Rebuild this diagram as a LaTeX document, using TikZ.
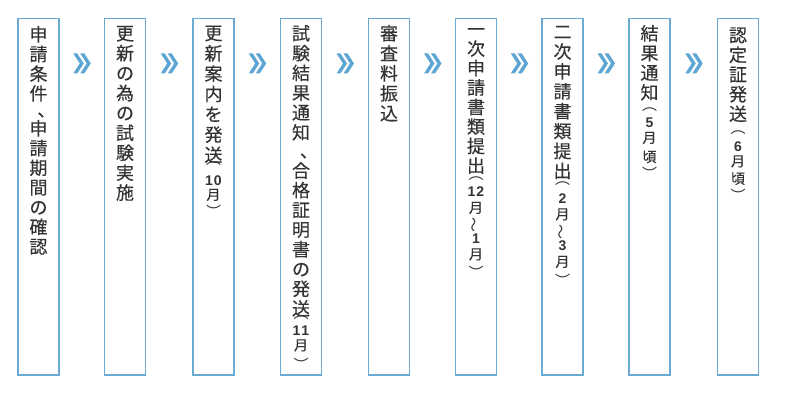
\documentclass[tikz,border=0pt]{standalone}
\usepackage{fontspec}
\setmainfont{Liberation Sans}
\newfontfamily\cjk[FakeBold=0.3]{Noto Sans CJK JP}
\newfontfamily\cjkr{Noto Sans CJK JP}
\usetikzlibrary{calc}
\definecolor{boxblue}{HTML}{6BAAD2}
\definecolor{chevblue}{HTML}{5DA6D3}
\definecolor{txt}{HTML}{333333}
\tikzset{
  stepbox/.style={draw=boxblue, line width=1.1pt, minimum width=41pt, minimum height=356.5pt, inner sep=0pt},
  mainch/.style={font=\cjk\fontsize{18}{18}\selectfont, text=txt, inner sep=0pt, text height=15.84pt, text depth=2.16pt},
  smallch/.style={font=\cjk\fontsize{14}{14}\selectfont, text=txt, inner sep=0pt, text height=12.32pt, text depth=1.68pt},
  parch/.style={font=\cjkr\fontsize{15}{15}\selectfont, text=txt, inner sep=0pt, text height=13.2pt, text depth=1.8pt},
  popen/.style={parch, yshift=6.5pt},
  pclose/.style={parch, yshift=-7.5pt},
  digch/.style={font=\bfseries\fontsize{14}{14}\selectfont, text=txt, inner sep=0pt, text height=10.02pt, text depth=0pt},
  commach/.style={mainch, xshift=-3pt, yshift=-10pt},
  chev/.pic={
    \fill[chevblue] (-8.5,-10) -- (-4.5,-10) -- (2,0) -- (-4.5,10) -- (-8.5,10) -- (-2,0) -- cycle;
    \fill[chevblue] (-1.5,-10) -- (2.5,-10) -- (9,0) -- (2.5,10) -- (-1.5,10) -- (5,0) -- cycle;
  }
}
\begin{document}
\begin{tikzpicture}[x=1pt,y=-1pt]
\useasboundingbox (0,0) rectangle (800,400);
% boxes
\node[stepbox] (b1) at (38.5,196.75) {};
\node[stepbox] (b2) at (125,196.75) {};
\node[stepbox] (b3) at (213.5,196.75) {};
\node[stepbox] (b4) at (301,196.75) {};
\node[stepbox] (b5) at (389,196.75) {};
\node[stepbox] (b6) at (476,196.75) {};
\node[stepbox] (b7) at (562.5,196.75) {};
\node[stepbox] (b8) at (649.5,196.75) {};
\node[stepbox] (b9) at (738,196.75) {};
% chevrons
\pic (ch1) at ($(b1.north east)!.5!(b2.north west)+(0,45.5)$) {chev};
\pic (ch2) at ($(b2.north east)!.5!(b3.north west)+(0,45.5)$) {chev};
\pic (ch3) at ($(b3.north east)!.5!(b4.north west)+(0,45.5)$) {chev};
\pic (ch4) at ($(b4.north east)!.5!(b5.north west)+(0,45.5)$) {chev};
\pic (ch5) at ($(b5.north east)!.5!(b6.north west)+(0,45.5)$) {chev};
\pic (ch6) at ($(b6.north east)!.5!(b7.north west)+(0,45.5)$) {chev};
\pic (ch7) at ($(b7.north east)!.5!(b8.north west)+(0,45.5)$) {chev};
\pic (ch8) at ($(b8.north east)!.5!(b9.north west)+(0,45.5)$) {chev};
% box 1
\foreach \c [count=\k from 0] in {申,請,条,件} \node[mainch] (b1a\k) at (38.5,34.3+19.7*\k) {\c};
\node[commach] (b1cm) at (38.5,110.5) {︑};
\foreach \c [count=\k from 0] in {申,請,期,間,の,確,認} \node[mainch] (b1b\k) at (38.5,128.3+19.7*\k) {\c};
% box 2
\foreach \c [count=\k from 0] in {更,新,の,為,の,試,験,実,施} \node[mainch] (b2a\k) at (125,33.3+19.9*\k) {\c};
% box 3
\foreach \c [count=\k from 0] in {更,新,案,内,を,発,送} \node[mainch] (b3a\k) at (213.5,33+20.3*\k) {\c};
\node[popen] (b3p1) at (213.5,165.5) {︵};
\node[digch] (b3n1) at (213.5,180) {1\kern1pt0};
\node[smallch] (b3m1) at (213.5,194.5) {月};
\node[pclose] (b3p2) at (213.5,204) {︶};
% box 4
\foreach \c [count=\k from 0] in {試,験,結,果,通,知} \node[mainch] (b4a\k) at (301,33.3+19.8*\k) {\c};
\node[commach] (b4cm) at (301,151.5) {︑};
\foreach \c [count=\k from 0] in {合,格,証,明,書,の,発,送} \node[mainch] (b4b\k) at (301,170.5+19.7*\k) {\c};
\node[popen] (b4p1) at (301,319) {︵};
\node[digch] (b4n1) at (301,330) {1\kern1pt1};
\node[smallch] (b4m1) at (301,345) {月};
\node[pclose] (b4p2) at (301,357) {︶};
% box 5
\foreach \c [count=\k from 0] in {審,査,料,振,込} \node[mainch] (b5a\k) at (389,33.3+20*\k) {\c};
% box 6
\foreach \c [count=\k from 0] in {一,次,申,請,書,類,提,出} \node[mainch] (b6a\k) at (476,29+19.5*\k) {\c};
\node[popen] (b6p1) at (476,180) {︵};
\node[digch] (b6n1) at (476,191) {1\kern1pt2};
\node[smallch] (b6m1) at (476,207.5) {月};
\node[parch] (b6t1) at (476,223.5) {\rotatebox[origin=c]{90}{～}};
\node[digch] (b6n2) at (476,238) {1};
\node[smallch] (b6m2) at (476,254) {月};
\node[pclose] (b6p2) at (476,265) {︶};
% box 7
\foreach \c [count=\k from 0] in {二,次,申,請,書,類,提,出} \node[mainch] (b7a\k) at (562.5,31.6+19.9*\k) {\c};
\node[popen] (b7p1) at (562.5,185.5) {︵};
\node[digch] (b7n1) at (562.5,198) {2};
\node[smallch] (b7m1) at (562.5,214) {月};
\node[parch] (b7t1) at (562.5,230) {\rotatebox[origin=c]{90}{～}};
\node[digch] (b7n2) at (562.5,245) {3};
\node[smallch] (b7m2) at (562.5,261.5) {月};
\node[pclose] (b7p2) at (562.5,273.5) {︶};
% box 8
\foreach \c [count=\k from 0] in {結,果,通,知} \node[mainch] (b8a\k) at (649.5,33.3+19.7*\k) {\c};
\node[popen] (b8p1) at (649.5,111.5) {︵};
\node[digch] (b8n1) at (649.5,122.5) {5};
\node[smallch] (b8m1) at (649.5,137.5) {月};
\node[smallch] (b8h1) at (649.5,156.7) {頃};
\node[pclose] (b8p2) at (649.5,166) {︶};
% box 9
\foreach \c [count=\k from 0] in {認,定,証,発,送} \node[mainch] (b9a\k) at (738,35+19.7*\k) {\c};
\node[popen] (b9p1) at (738,134.5) {︵};
\node[digch] (b9n1) at (738,146.5) {6};
\node[smallch] (b9m1) at (738,161) {月};
\node[smallch] (b9h1) at (738,178.5) {頃};
\node[pclose] (b9p2) at (738,188.5) {︶};
\end{tikzpicture}
\end{document}
